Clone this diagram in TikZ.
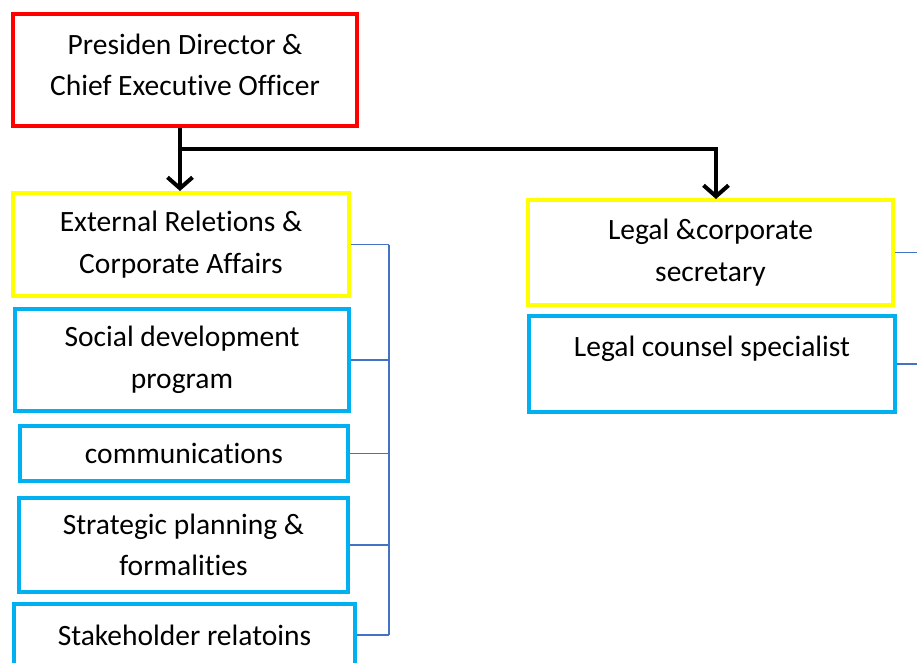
\documentclass[tikz,border=0pt]{standalone}
\usepackage{fontspec}
\setmainfont[Ligatures=NoCommon]{Carlito}
\usetikzlibrary{positioning,arrows.meta}

\definecolor{boxred}{RGB}{255,0,0}
\definecolor{boxyellow}{RGB}{255,255,0}
\definecolor{boxblue}{RGB}{0,176,240}
\definecolor{busblue}{RGB}{68,114,196}

\begin{document}
\begin{tikzpicture}[x=1pt,y=-1pt,
        font=\fontsize{29.5}{41.5}\selectfont,
        every node/.style={align=center, inner sep=0pt},
        headbox/.style={draw=boxred, line width=4pt},
        unitbox/.style={draw=boxyellow, line width=4pt},
        subbox/.style={draw=boxblue, line width=4pt},
        arr/.style={line width=4pt, -{Straight Barb[length=11pt,width=25pt]}},
        bus/.style={draw=busblue, line width=1.4pt}]
        \useasboundingbox (0,0) rectangle (917,663);
        \node[headbox, minimum width=344pt, minimum height=112pt, text depth=10pt] (ceo) at (185,70) {Presiden Director \&\\Chief Executive Officer};
        \node[unitbox, minimum width=336pt, minimum height=103pt] (extrel) at (181,244.5) {External Reletions \&\\Corporate Affairs};
        \node[subbox, minimum width=334pt, minimum height=102pt] (social) at (182,360) {Social development\\program};
        \node[subbox, minimum width=328pt, minimum height=55pt] (comm) at (184,453.5) {communications};
        \node[subbox, minimum width=329pt, minimum height=94pt] (strat) at (183.5,545) {Strategic planning \&\\formalities};
        \node[subbox, minimum width=341pt, minimum height=62pt] (stake) at (184.5,635) {Stakeholder relatoins};
        \node[unitbox, minimum width=365pt, minimum height=105pt] (legal) at (710.5,252.5) {Legal \&corporate\\secretary};
        \node[subbox, minimum width=366pt, minimum height=96pt, text height=20pt, text depth=36pt] (counsel) at (712,364) {Legal counsel specialist};

        \coordinate (fork) at (180,149);
        \coordinate (edge) at (917,0);
        \draw[arr] (ceo.south -| fork) -- (fork |- extrel.north);
        \draw[arr] (fork) -| (716,199);

        \draw[bus] (extrel.east) -- ++(38,0) coordinate (bustop);
        \draw[bus] (bustop) -- (stake.east -| bustop);
        \foreach \n in {social,comm,strat,stake}
            \draw[bus] (\n.east) -- (\n.east -| bustop);
        \draw[bus] (legal.east) -- (legal.east -| edge);
        \draw[bus] (counsel.east) -- (counsel.east -| edge);
    \end{tikzpicture}
\end{document}
